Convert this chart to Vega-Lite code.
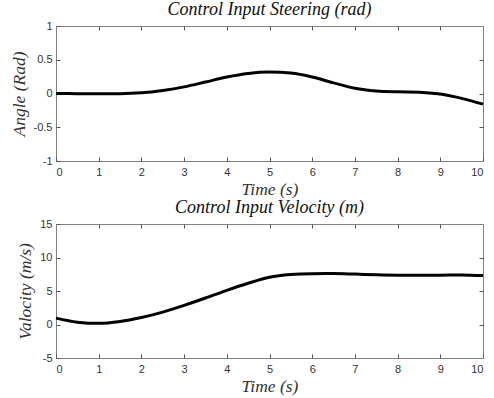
{
  "$schema": "https://vega.github.io/schema/vega-lite/v6.json",
  "background": "white",
  "padding": {"left": 9, "top": 0, "right": 6, "bottom": 0},
  "spacing": 0,
  "datasets": {
    "steer": [
      {"t": 0, "v": 0}, {"t": 0.5, "v": -0.003}, {"t": 1, "v": -0.005}, {"t": 1.5, "v": -0.003},
      {"t": 2, "v": 0.01}, {"t": 2.5, "v": 0.045}, {"t": 3, "v": 0.098}, {"t": 3.5, "v": 0.17},
      {"t": 4, "v": 0.245}, {"t": 4.5, "v": 0.298}, {"t": 5, "v": 0.318}, {"t": 5.5, "v": 0.302},
      {"t": 6, "v": 0.245}, {"t": 6.5, "v": 0.158}, {"t": 7, "v": 0.078}, {"t": 7.5, "v": 0.038},
      {"t": 8, "v": 0.025}, {"t": 8.5, "v": 0.02}, {"t": 9, "v": -0.008}, {"t": 9.5, "v": -0.072},
      {"t": 10, "v": -0.158}
    ],
    "vel": [
      {"t": 0, "v": 0.95}, {"t": 0.5, "v": 0.35}, {"t": 1, "v": 0.17}, {"t": 1.5, "v": 0.45},
      {"t": 2, "v": 1.05}, {"t": 2.5, "v": 1.85}, {"t": 3, "v": 2.85}, {"t": 3.5, "v": 3.95},
      {"t": 4, "v": 5.1}, {"t": 4.5, "v": 6.15}, {"t": 5, "v": 7.05}, {"t": 5.5, "v": 7.45},
      {"t": 6, "v": 7.58}, {"t": 6.5, "v": 7.6}, {"t": 7, "v": 7.52}, {"t": 7.5, "v": 7.42},
      {"t": 8, "v": 7.36}, {"t": 8.5, "v": 7.35}, {"t": 9, "v": 7.36}, {"t": 9.5, "v": 7.4},
      {"t": 10, "v": 7.3}
    ]
  },
  "config": {
    "view": {"stroke": "#808080", "strokeWidth": 1},
    "title": {"font": "Liberation Serif", "fontStyle": "italic", "fontWeight": "normal", "fontSize": 18, "color": "#111", "offset": 1},
    "axis": {
      "labelFont": "Liberation Sans", "labelFontSize": 11, "labelColor": "#333",
      "titleFont": "Liberation Serif", "titleFontStyle": "italic", "titleFontWeight": "normal", "titleFontSize": 17.5, "titleColor": "#333",
      "grid": false, "domain": false, "tickColor": "#555", "tickSize": -4
    },
    "axisX": {"labelPadding": 9, "titlePadding": 3},
    "axisY": {"labelPadding": 8, "titlePadding": 5}
  },
  "vconcat": [
    {
      "title": "Control Input Steering (rad)",
      "width": 427, "height": 135,
      "data": {"name": "steer"},
      "resolve": {"axis": {"x": "independent", "y": "independent"}},
      "layer": [
        {
          "mark": {"type": "line", "color": "black", "strokeWidth": 3, "interpolate": "monotone"},
          "encoding": {
            "x": {"field": "t", "type": "quantitative", "scale": {"domain": [0, 10], "nice": false},
              "axis": {"title": "Time (s)", "values": [0,1,2,3,4,5,6,7,8,9,10], "labelExpr": "'' + datum.value"}},
            "y": {"field": "v", "type": "quantitative", "scale": {"domain": [-1, 1], "nice": false},
              "axis": {"title": "Angle (Rad)", "values": [-1,-0.5,0,0.5,1], "labelExpr": "'' + datum.value"}}
          }
        },
        {
          "mark": {"type": "line", "opacity": 0},
          "encoding": {
            "x": {"field": "t", "type": "quantitative", "axis": {"orient": "top", "title": null, "labels": false, "values": [1,2,3,4,5,6,7,8,9]}},
            "y": {"field": "v", "type": "quantitative", "axis": {"orient": "right", "title": null, "labels": false, "values": [-0.5,0,0.5]}}
          }
        }
      ]
    },
    {
      "title": "Control Input Velocity (m)",
      "width": 427, "height": 134,
      "data": {"name": "vel"},
      "resolve": {"axis": {"x": "independent", "y": "independent"}},
      "layer": [
        {
          "mark": {"type": "line", "color": "black", "strokeWidth": 3, "interpolate": "monotone"},
          "encoding": {
            "x": {"field": "t", "type": "quantitative", "scale": {"domain": [0, 10], "nice": false},
              "axis": {"title": "Time (s)", "values": [0,1,2,3,4,5,6,7,8,9,10], "labelExpr": "'' + datum.value"}},
            "y": {"field": "v", "type": "quantitative", "scale": {"domain": [-5, 15], "nice": false},
              "axis": {"title": "Valocity (m/s)", "values": [-5,0,5,10,15], "labelExpr": "'' + datum.value"}}
          }
        },
        {
          "mark": {"type": "line", "opacity": 0},
          "encoding": {
            "x": {"field": "t", "type": "quantitative", "axis": {"orient": "top", "title": null, "labels": false, "values": [1,2,3,4,5,6,7,8,9]}},
            "y": {"field": "v", "type": "quantitative", "axis": {"orient": "right", "title": null, "labels": false, "values": [0,5,10]}}
          }
        }
      ]
    }
  ]
}
